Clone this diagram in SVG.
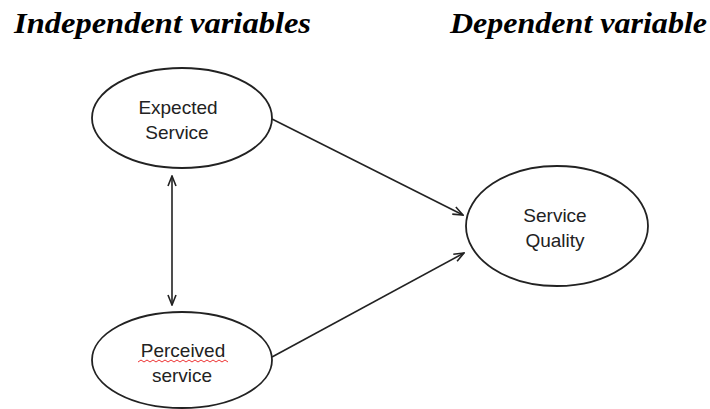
<svg xmlns="http://www.w3.org/2000/svg" width="710" height="409" viewBox="0 0 710 409">
  <style>
    .title { font-family: "Liberation Serif", "DejaVu Serif", serif; font-weight: bold; font-style: italic; font-size: 29px; fill: #000; }
    .node ellipse { fill: #fff; stroke: #222; stroke-width: 1.8; }
    .node text { font-family: "Liberation Sans", Arial, sans-serif; font-size: 19px; fill: #222; text-anchor: middle; }
    .conn line { stroke: #222; stroke-width: 1.6; fill: none; }
  </style>
  <defs>
    <marker id="arr" viewBox="0 0 12 10" refX="11" refY="5" markerWidth="12" markerHeight="10" markerUnits="userSpaceOnUse" orient="auto-start-reverse">
      <path d="M1,1 L11,5 L1,9" fill="none" stroke="#222" stroke-width="1.6"/>
    </marker>
  </defs>
  <rect width="710" height="409" fill="#fff"/>
  <text class="title" x="14" y="33" textLength="297" lengthAdjust="spacingAndGlyphs">Independent variables</text>
  <text class="title" x="450" y="33" textLength="257" lengthAdjust="spacingAndGlyphs">Dependent variable</text>

  <g id="conn" class="conn">
    <line x1="272" y1="119" x2="463" y2="215" marker-end="url(#arr)"/>
    <line x1="272" y1="357" x2="464" y2="253" marker-end="url(#arr)"/>
    <line x1="172" y1="176" x2="172" y2="305" marker-start="url(#arr)" marker-end="url(#arr)"/>
  </g>

  <g id="expected" class="node">
    <ellipse cx="182" cy="118" rx="90" ry="50"/>
    <text x="178" y="114">Expected</text>
    <text x="177" y="139">Service</text>
  </g>
  <g id="perceived" class="node">
    <ellipse cx="182" cy="360" rx="90" ry="48"/>
    <text x="183" y="357">Perceived</text>
    <path d="M138,362 l3,-2 l3,2 l3,-2 l3,2 l3,-2 l3,2 l3,-2 l3,2 l3,-2 l3,2 l3,-2 l3,2 l3,-2 l3,2 l3,-2 l3,2 l3,-2 l3,2 l3,-2 l3,2 l3,-2 l3,2 l3,-2 l3,2 l3,-2 l3,2 l3,-2 l3,2 l3,-2 l3,2" fill="none" stroke="#e33" stroke-width="1"/>
    <text x="182" y="382">service</text>
  </g>
  <g id="quality" class="node">
    <ellipse cx="557" cy="226" rx="91" ry="60"/>
    <text x="555" y="222">Service</text>
    <text x="555" y="247">Quality</text>
  </g>
</svg>
